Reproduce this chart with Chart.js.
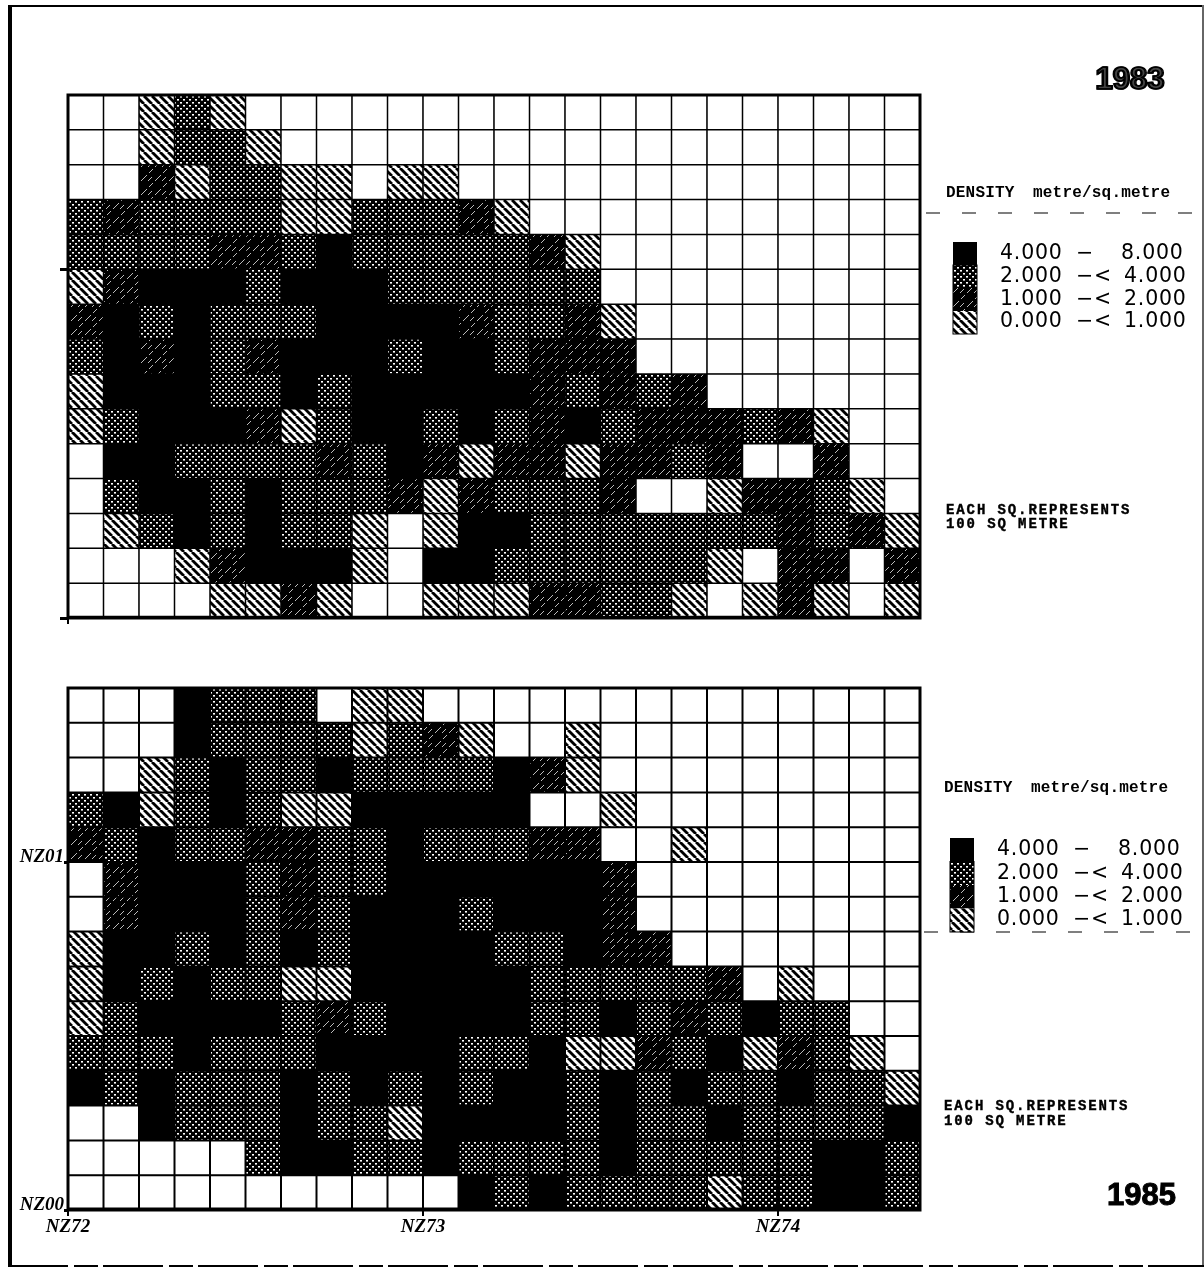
<!DOCTYPE html>
<html><head><meta charset="utf-8">
<script src="https://cdn.jsdelivr.net/npm/chart.js@4"></script>
<style>
html,body{margin:0;padding:0;background:#fff;width:1204px;height:1267px;overflow:hidden}
canvas{position:absolute;left:0}
.f{position:absolute;background:#000}
</style></head><body>
<div class="f" style="left:8px;top:5px;width:4px;height:1262px"></div>
<div class="f" style="left:8px;top:5px;width:1196px;height:2px"></div>
<div class="f" style="left:1202px;top:5px;width:2px;height:1262px;background:#666"></div>
<div class="f" style="left:8px;top:1265px;width:1196px;height:2px;background:repeating-linear-gradient(90deg,#000 0 60px,#fff 60px 66px,#000 66px 90px,#fff 90px 95px)"></div>
<div style="position:absolute;left:0;top:0;width:1204px;height:650px"><canvas id="c83"></canvas></div>
<div style="position:absolute;left:0;top:650px;width:1204px;height:617px"><canvas id="c85"></canvas></div>
<script>
// 0 = empty, 1 = 0-1, 2 = 1-2, 3 = 2-4, 4 = 4-8 (rows from the top)
const cells1983 = [
[0,0,1,3,1,0,0,0,0,0,0,0,0,0,0,0,0,0,0,0,0,0,0,0],
[0,0,1,3,3,1,0,0,0,0,0,0,0,0,0,0,0,0,0,0,0,0,0,0],
[0,0,2,1,3,3,1,1,0,1,1,0,0,0,0,0,0,0,0,0,0,0,0,0],
[3,2,3,3,3,3,1,1,3,3,3,2,1,0,0,0,0,0,0,0,0,0,0,0],
[3,3,3,3,2,2,3,4,3,3,3,3,3,2,1,0,0,0,0,0,0,0,0,0],
[1,2,4,4,4,3,4,4,4,3,3,3,3,3,3,0,0,0,0,0,0,0,0,0],
[2,4,3,4,3,3,3,4,4,4,4,2,3,3,2,1,0,0,0,0,0,0,0,0],
[3,4,2,4,3,2,4,4,4,3,4,4,3,2,2,2,0,0,0,0,0,0,0,0],
[1,4,4,4,3,3,4,3,4,4,4,4,4,2,3,2,3,2,0,0,0,0,0,0],
[1,3,4,4,4,2,1,3,4,4,3,4,3,2,4,3,2,2,2,3,2,1,0,0],
[0,4,4,3,3,3,3,2,3,4,2,1,2,2,1,2,2,3,2,0,0,2,0,0],
[0,3,4,4,3,4,3,3,3,2,1,2,3,3,3,2,0,0,1,2,2,3,1,0],
[0,1,3,4,3,4,3,3,1,0,1,4,4,3,3,3,3,3,3,3,2,3,2,1],
[0,0,0,1,2,4,4,4,1,0,4,4,3,3,3,3,3,3,1,0,2,2,0,2],
[0,0,0,0,1,1,2,1,0,0,1,1,1,2,2,3,3,1,0,1,2,1,0,1]];
const cells1985 = [
[0,0,0,4,3,3,3,0,1,1,0,0,0,0,0,0,0,0,0,0,0,0,0,0],
[0,0,0,4,3,3,3,3,1,3,2,1,0,0,1,0,0,0,0,0,0,0,0,0],
[0,0,1,3,4,3,3,4,3,3,3,3,4,2,1,0,0,0,0,0,0,0,0,0],
[3,4,1,3,4,3,1,1,4,4,4,4,4,0,0,1,0,0,0,0,0,0,0,0],
[2,3,4,3,3,2,2,3,3,4,3,3,3,2,2,0,0,1,0,0,0,0,0,0],
[0,2,4,4,4,3,2,3,3,4,4,4,4,4,4,2,0,0,0,0,0,0,0,0],
[0,2,4,4,4,3,2,3,4,4,4,3,4,4,4,2,0,0,0,0,0,0,0,0],
[1,4,4,3,4,3,4,3,4,4,4,4,3,3,4,2,2,0,0,0,0,0,0,0],
[1,4,3,4,3,3,1,1,4,4,4,4,4,3,3,3,3,3,2,0,1,0,0,0],
[1,3,4,4,4,4,3,2,3,4,4,4,4,3,3,4,3,2,3,4,3,3,0,0],
[3,3,3,4,3,3,3,4,4,4,4,3,3,4,1,1,2,3,4,1,2,3,1,0],
[4,3,4,3,3,3,4,3,4,3,4,3,4,4,3,4,3,4,3,3,4,3,3,1],
[0,0,4,3,3,3,4,3,3,1,4,4,4,4,3,4,3,3,4,3,3,3,3,4],
[0,0,0,0,0,3,4,4,3,3,4,3,3,3,3,4,3,3,3,3,3,4,4,3],
[0,0,0,0,0,0,0,0,0,0,0,4,3,4,3,3,3,3,1,3,3,4,4,3]];
const rangeLow  = ['4.000','2.000','1.000','0.000'];
const rangeSep  = ['\u2212','\u2212<','\u2212<','\u2212<'];
const rangeHigh = ['8.000','4.000','2.000','1.000'];
const levelNames = ['none','0.000-1.000','1.000-2.000','2.000-4.000','4.000-8.000'];
const xTickLabels = ['NZ72','NZ73','NZ74'];
const yTickLabels = ['NZ00','NZ01'];
const densityTitle = ['DENSITY','metre/sq.metre'];
const noteLines = ['EACH SQ.REPRESENTS','100 SQ METRE'];

const patCtx=document.createElement('canvas').getContext('2d');
function tile(w,h,draw){const c=document.createElement('canvas');c.width=w;c.height=h;
  draw(c.getContext('2d'),w,h);return patCtx.createPattern(c,'repeat');}
const hatch=tile(8,8,(g,w,h)=>{g.fillStyle='#fff';g.fillRect(0,0,w,h);g.strokeStyle='#000';g.lineWidth=2.8;
  for(let i=-8;i<=16;i+=8){g.beginPath();g.moveTo(i,0);g.lineTo(i+8,8);g.stroke();}});
const dots=tile(6,6,(g,w,h)=>{g.fillStyle='#000';g.fillRect(0,0,w,h);g.fillStyle='#fff';
  g.fillRect(0,0,2,1.6);g.fillRect(3,3,2,1.6);});
const diag=tile(14,14,(g,w,h)=>{g.fillStyle='#000';g.fillRect(0,0,w,h);g.strokeStyle='#bbb';g.lineWidth=1;
  g.beginPath();g.moveTo(1,13);g.lineTo(7,7);g.moveTo(9,5);g.lineTo(13,1);g.stroke();
  g.beginPath();g.moveTo(8,13);g.lineTo(12,9);g.stroke();});
const fills=['#ffffff',hatch,diag,dots,'#000000'];

function datasets(cells,bw){
  return levelNames.map((name,l)=>{
    const data=[];
    cells.forEach((row,r)=>row.forEach((v,c)=>{ if(v===l) data.push({x:c+0.5,y:[14-r,15-r]}); }));
    return {label:name,data,backgroundColor:fills[l],borderColor:'#000',borderWidth:bw,borderSkipped:false,
            barPercentage:1,categoryPercentage:1,grouped:false,inflateAmount:0.5};
  });
}

function decorate(cfg){return {id:'decor',afterDraw(ch){
  const g=ch.ctx,a=ch.chartArea;g.save();
  g.strokeStyle='#000';g.lineWidth=3;g.strokeRect(a.left,a.top,a.right-a.left,a.bottom-a.top);
  g.fillStyle='#000';g.textBaseline='middle';g.textAlign='left';
  g.font='900 31px "Liberation Sans"';g.letterSpacing='0px';
  if(cfg.yearOutline){g.lineWidth=1.5;g.fillStyle='#444';g.fillText(cfg.year,cfg.yearX,cfg.yearY);g.strokeText(cfg.year,cfg.yearX,cfg.yearY);
    g.strokeText(cfg.year,cfg.yearX+1,cfg.yearY);g.fillStyle='#000';}
  else{g.lineWidth=1;g.fillText(cfg.year,cfg.yearX,cfg.yearY);g.strokeText(cfg.year,cfg.yearX,cfg.yearY);}
  g.font='bold 16px "Liberation Mono"';g.letterSpacing='0.2px';
  g.fillText(densityTitle[0],cfg.titleX,cfg.titleY);g.fillText(densityTitle[1],cfg.titleX+87,cfg.titleY);
  g.lineWidth=1.2;g.setLineDash([14,22]);g.beginPath();g.moveTo(cfg.titleX-20,cfg.dashY);g.lineTo(1195,cfg.dashY);g.stroke();g.setLineDash([]);
  const order=[4,3,2,1];
  order.forEach((l,i)=>{g.fillStyle=fills[l];g.fillRect(cfg.swX,cfg.swY+i*cfg.swH,24,cfg.swH);});
  g.strokeStyle='#000';g.lineWidth=1;g.strokeRect(cfg.swX,cfg.swY+cfg.swH,24,cfg.swH*3);
  g.fillStyle='#000';g.font='20.5px "DejaVu Sans"';g.letterSpacing='0.8px';
  rangeLow.forEach((t,i)=>{const y=cfg.rowY+i*cfg.rowH;
    g.fillText(t,cfg.swX+47,y);g.fillText(rangeSep[i],cfg.swX+123,y);g.fillText(rangeHigh[i],cfg.swX+(i?171:168),y);});
  g.font='bold 14px "Liberation Mono"';g.letterSpacing='1.9px';g.strokeStyle='#000';g.lineWidth=0.4;
  noteLines.forEach((t,i)=>{g.fillText(t,cfg.titleX,cfg.noteY+i*cfg.noteH);g.strokeText(t,cfg.titleX,cfg.noteY+i*cfg.noteH);});
  g.restore();
}};}

const labelFont={family:'Liberation Serif',style:'italic',weight:'bold',size:19};
function makeChart(id,w,h,cells,bw,top,bottom,xTicks,yTicks,xLab,yLab,yLen,cfg){
  const el=document.getElementById(id);el.width=w;el.height=h;el.style.width=w+'px';el.style.height=h+'px';
  return new Chart(el,{type:'bar',data:{datasets:datasets(cells,bw)},plugins:[decorate(cfg)],
   options:{responsive:false,animation:false,maintainAspectRatio:false,
    layout:{padding:{left:0,right:284,top:top,bottom:0}},
    plugins:{legend:{display:false},tooltip:{enabled:false}},
    scales:{
     x:{type:'linear',min:0,max:24,offset:false,
        grid:{offset:false,drawOnChartArea:false,drawTicks:true,tickLength:6,tickColor:'#000',lineWidth:2},border:{display:false},
        afterBuildTicks:s=>{s.ticks=xTicks.map(v=>({value:v}));},
        afterFit:s=>{s.height=bottom;},
        ticks:{maxRotation:0,padding:0,color:'#000',font:labelFont,
               callback:(v)=>xLab[xTicks.indexOf(v)]||''}},
     y:{type:'linear',min:0,max:15,
        grid:{drawOnChartArea:false,drawTicks:true,tickLength:yLen,tickColor:'#000',lineWidth:3},border:{display:false},
        afterBuildTicks:s=>{s.ticks=yTicks.map(v=>({value:v}));},
        afterFit:s=>{s.width=68;},
        ticks:{padding:0,labelOffset:-5,color:'#000',font:labelFont,
               callback:(v)=>yLab[yTicks.indexOf(v)]||''}}
    }}});
}
makeChart('c83',1204,650,cells1983,1.25,95,32,[0],[0,10],[''],['',''],8,
 {year:'1983',yearOutline:true,yearX:1095,yearY:80,titleX:946,titleY:193,dashY:213,swX:953,swY:242,swH:23,rowY:254,rowH:22.7,noteY:510,noteH:14});
makeChart('c85',1204,617,cells1985,1.5,38,57,[0,10,20],[0,10],xTickLabels,yTickLabels,4,
 {year:'1985',yearOutline:false,yearX:1107,yearY:546,titleX:944,titleY:138,dashY:282,swX:950,swY:188,swH:23.5,rowY:200,rowH:23.3,noteY:456,noteH:15});
</script>
</body></html>
